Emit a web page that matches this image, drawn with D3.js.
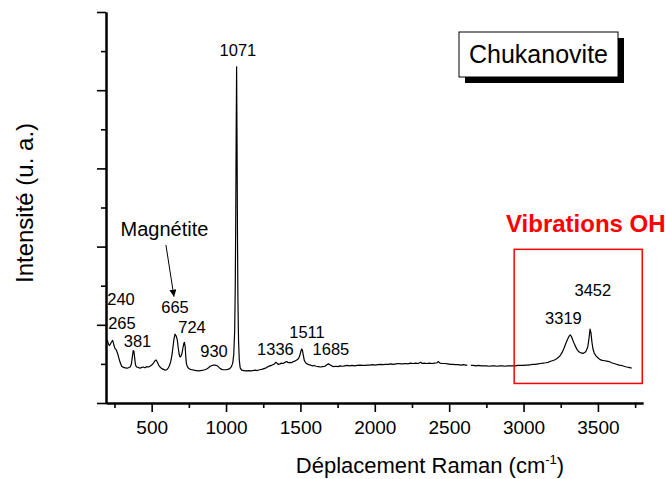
<!DOCTYPE html>
<html lang="fr">
<head>
    <meta charset="UTF-8">
    <title>Chukanovite - spectre Raman</title>
    <script src="https://d3js.org/d3.v7.min.js"></script>
    <style>
        body { margin: 0; background: #fff; }
        svg { font-family: "Liberation Sans", Arial, sans-serif; }
        .spectrum { fill: none; stroke: #000; stroke-width: 1.2px; stroke-linejoin: round; }
        .axis path, .axis line { stroke: #000; }
        .axis path { stroke-width: 2px; }
        .axis line { stroke-width: 1.6px; }
        .axis text { font-size: 19px; fill: #000; font-family: "Liberation Sans", Arial, sans-serif; }
        .peak { font-size: 16.5px; fill: #000; }
    </style>
</head>
<body>
    <div id="chart"></div>
    <script>
        // spectrum (cm-1, arbitrary intensity), null = gap in the record
        var wavenumbers = [202, 208, 215, 222, 230, 238, 245, 251, 256, 261, 268, 276, 286, 298, 310, 322, 333, 343, 355, 364,
            370, 376, 381, 386, 391, 398, 410, 422, 434, 444, 455, 466, 478, 489, 500, 512, 522, 530, 538, 547,
            556, 568, 580, 592, 601, 612, 620, 628, 636, 643, 650, 657, 664, 672, 679, 685, 690, 696, 703, 710,
            716, 720, 725, 729, 733, 740, 750, 760, 772, 785, 800, 815, 830, 845, 858, 870, 882, 894, 905, 916,
            926, 938, 948, 958, 971, 985, 1000, 1012, 1025, 1036, 1045, 1052, 1058, 1062, 1065, 1068, 1071, 1074, 1077, 1080,
            1084, 1089, 1095, 1105, 1120, 1135, 1150, 1165, 1180, 1195, 1210, 1225, 1240, 1255, 1270, 1282, 1295, 1310, 1322, 1334,
            1342, 1350, 1362, 1372, 1384, 1396, 1408, 1418, 1430, 1441, 1452, 1462, 1475, 1486, 1495, 1502, 1508, 1513, 1518, 1526,
            1535, 1546, 1556, 1568, 1580, 1592, 1605, 1620, 1635, 1650, 1665, 1678, 1688, 1698, 1710, 1722, 1738, 1752, 1766, 1782,
            1798, 1815, 1830, 1848, 1865, 1882, 1900, 1918, 1935, 1952, 1967, 1985, 2002, 2020, 2038, 2055, 2072, 2090, 2108, 2125,
            2142, 2160, 2178, 2189, 2205, 2222, 2240, 2258, 2275, 2292, 2308, 2318, 2332, 2350, 2368, 2385, 2402, 2418, 2428, 2438,
            2455, 2472, 2490, 2508, 2525, 2542, 2560, 2578, 2595, 2612, 2622, 2632, 2646, 2662, 2680, 2698, 2715, 2732, 2752, 2770,
            2788, 2805, 2822, 2840, 2858, 2875, 2892, 2910, 2929, 2946, 2962, 2980, 2998, 3015, 3032, 3050, 3063, 3080, 3098, 3115,
            3132, 3150, 3165, 3177, 3192, 3208, 3222, 3235, 3248, 3260, 3272, 3284, 3296, 3306, 3314, 3322, 3332, 3345, 3359, 3372,
            3386, 3400, 3412, 3422, 3432, 3440, 3447, 3453, 3460, 3467, 3475, 3488, 3502, 3514, 3530, 3545, 3560, 3575, 3592, 3608,
            3625, 3642, 3659, 3675, 3692, 3708, 3727];
        var intensities = [1.61, 1.52, 1.47, 1.50, 1.56, 1.60, 1.50, 1.42, 1.38, 1.37, 1.30, 1.20, 1.06, 0.94, 0.91, 0.90, 0.89, 0.90, 0.92, 1.00,
            1.18, 1.34, 1.32, 1.14, 0.98, 0.92, 0.91, 0.89, 0.91, 0.92, 0.90, 0.93, 0.92, 0.94, 0.97, 1.02, 1.08, 1.10, 1.05, 0.97,
            0.92, 0.88, 0.86, 0.84, 0.85, 0.90, 0.96, 1.06, 1.22, 1.42, 1.64, 1.76, 1.72, 1.62, 1.40, 1.24, 1.18, 1.19, 1.26, 1.40,
            1.52, 1.55, 1.45, 1.20, 1.02, 0.93, 0.88, 0.86, 0.85, 0.84, 0.83, 0.82, 0.83, 0.84, 0.85, 0.87, 0.90, 0.94, 0.96, 0.97,
            0.97, 0.96, 0.93, 0.89, 0.86, 0.85, 0.85, 0.86, 0.88, 0.93, 1.02, 1.25, 1.85, 3.00, 4.60, 6.80, 8.60, 6.60, 4.20, 2.60,
            1.60, 1.10, 0.90, 0.84, 0.83, 0.82, 0.83, 0.82, 0.83, 0.84, 0.83, 0.85, 0.86, 0.88, 0.90, 0.93, 0.95, 0.97, 0.99, 1.04,
            1.02, 0.99, 1.00, 1.02, 1.01, 1.04, 1.06, 1.03, 1.04, 1.03, 1.06, 1.07, 1.10, 1.13, 1.20, 1.31, 1.38, 1.36, 1.25, 1.09,
            1.03, 1.00, 0.98, 0.97, 0.95, 0.96, 0.94, 0.93, 0.92, 0.93, 0.94, 0.98, 1.00, 0.98, 0.95, 0.93, 0.94, 0.93, 0.95, 0.94,
            0.95, 0.96, 0.95, 0.96, 0.95, 0.96, 0.97, 0.96, 0.96, 0.97, 0.97, 0.98, 0.97, 0.98, 0.99, 0.98, 0.99, 0.99, 1.00, 0.99,
            1.00, 1.01, 1.00, 1.00, 1.01, 1.00, 1.02, 1.01, 1.02, 1.01, 1.04, 1.01, 1.02, 1.01, 1.02, 1.01, 1.02, 1.03, 1.06, 1.02,
            1.01, 1.01, 1.00, 0.99, 0.99, 0.98, 0.98, 0.97, 0.98, 0.97, 0.97, null, 0.96, 0.96, 0.95, 0.96, 0.95, 0.95, 0.95, 0.94,
            0.95, 0.95, 0.94, 0.95, 0.95, 0.94, 0.95, 0.95, 0.95, 0.95, 0.96, 0.96, 0.96, 0.97, 0.97, 0.98, 0.99, 0.99, 1.00, 1.01,
            1.02, 1.03, 1.04, 1.06, 1.08, 1.10, 1.13, 1.17, 1.22, 1.30, 1.40, 1.52, 1.63, 1.71, 1.74, 1.70, 1.60, 1.48, 1.37, 1.31,
            1.28, 1.27, 1.29, 1.34, 1.44, 1.65, 1.89, 1.80, 1.55, 1.38, 1.28, 1.20, 1.15, 1.11, 1.09, 1.08, 1.07, 1.06, 1.03, 1.01,
            0.99, 0.97, 0.96, 0.94, 0.92, 0.91, 0.89];

        // peak labels: text, and where the label sits (cm-1, intensity of the baseline)
        var peakLabels = ["240", "265", "381", "665", "724", "930", "1071", "1336", "1511", "1685", "3319", "3452"];
        var peakLabelX = [294, 300, 405, 657, 771, 919, 1080, 1332, 1544, 1705, 3268, 3466];
        var peakLabelY = [2.51, 1.89, 1.44, 2.30, 1.79, 1.18, 8.87, 1.23, 1.66, 1.23, 2.02, 2.74];

        var xMajorTicks = [500, 1000, 1500, 2000, 2500, 3000, 3500];
        var xMinorTicks = [250, 750, 1250, 1750, 2250, 2750, 3250, 3750];
        var yMajorTicks = [0, 2, 4, 6, 8, 10];
        var yMinorTicks = [1, 3, 5, 7, 9];

        var width = 666, height = 479;
        var margin = { top: 12, right: 23, bottom: 76, left: 106 };
        var w = width - margin.left - margin.right;
        var h = height - margin.top - margin.bottom;

        var svg = d3.select("#chart").append("svg")
            .attr("width", width)
            .attr("height", height);

        var defs = svg.append("defs");
        defs.append("marker")
            .attr("id", "arrow")
            .attr("viewBox", "0 0 10 10")
            .attr("refX", 10).attr("refY", 5)
            .attr("markerWidth", 7).attr("markerHeight", 7)
            .attr("markerUnits", "userSpaceOnUse")
            .attr("orient", "auto")
            .append("path")
            .attr("d", "M0,0 L10,5 L0,10 z")
            .attr("fill", "#000");

        var g = svg.append("g")
            .attr("transform", `translate(${margin.left},${margin.top})`);

        var x = d3.scaleLinear().domain([193, 3803]).range([0, w]);
        var y = d3.scaleLinear().domain([0, 10]).range([h, 0]);

        // axes
        g.append("g").attr("class", "axis")
            .attr("transform", `translate(0,${h})`)
            .call(d3.axisBottom(x).tickValues(xMinorTicks).tickSize(5).tickSizeOuter(0).tickFormat(""));
        g.append("g").attr("class", "axis")
            .attr("transform", `translate(0,${h})`)
            .call(d3.axisBottom(x).tickValues(xMajorTicks).tickSize(9).tickSizeOuter(0).tickPadding(9).tickFormat(d3.format("d")));
        g.append("g").attr("class", "axis")
            .call(d3.axisLeft(y).tickValues(yMinorTicks).tickSize(5).tickSizeOuter(0).tickFormat(""));
        g.append("g").attr("class", "axis")
            .call(d3.axisLeft(y).tickValues(yMajorTicks).tickSize(9).tickSizeOuter(0).tickFormat(""));

        // spectrum
        var data = wavenumbers.map((d, i) => ({ wn: d, v: intensities[i] }));
        var line = d3.line()
            .defined(d => d.v != null)
            .x(d => x(d.wn))
            .y(d => y(d.v));
        g.append("path")
            .datum(data)
            .attr("class", "spectrum")
            .attr("d", line);

        // peak labels
        g.selectAll(".peak")
            .data(peakLabels)
            .enter().append("text")
            .attr("class", "peak")
            .attr("x", (d, i) => x(peakLabelX[i]))
            .attr("y", (d, i) => y(peakLabelY[i]))
            .attr("text-anchor", "middle")
            .text(d => d);

        // Magnetite annotation
        g.append("text")
            .attr("x", x(586)).attr("y", y(4.27))
            .attr("text-anchor", "middle")
            .style("font-size", "20px")
            .text("Magnétite");
        g.append("line")
            .attr("x1", x(596)).attr("y1", y(4.04))
            .attr("x2", x(650)).attr("y2", y(2.72))
            .attr("stroke", "#000").attr("stroke-width", 1)
            .attr("marker-end", "url(#arrow)");

        // OH region
        g.append("rect")
            .attr("x", x(2937)).attr("y", y(3.93))
            .attr("width", x(3798) - x(2937))
            .attr("height", y(0.50) - y(3.93))
            .attr("fill", "none")
            .attr("stroke", "#ff0000")
            .attr("stroke-width", 1.5);
        g.append("text")
            .attr("x", x(2882)).attr("y", y(4.37))
            .attr("fill", "#ff0000")
            .style("font-size", "24px")
            .style("font-weight", "bold")
            .text("Vibrations OH");

        // sample name box with drop shadow
        var box = svg.append("g").attr("transform", "translate(459,32)");
        box.append("rect").attr("x", 6).attr("y", 6).attr("width", 159).attr("height", 45).attr("fill", "#000");
        box.append("rect").attr("x", 0).attr("y", 0).attr("width", 159).attr("height", 45)
            .attr("fill", "#fff").attr("stroke", "#000").attr("stroke-width", 1);
        box.append("text").attr("x", 79.5).attr("y", 31)
            .attr("text-anchor", "middle")
            .style("font-size", "25px")
            .text("Chukanovite");

        // axis titles
        var xt = svg.append("text")
            .attr("x", 430).attr("y", 473)
            .attr("text-anchor", "middle")
            .style("font-size", "22px");
        xt.append("tspan").text("Déplacement Raman (cm");
        xt.append("tspan").attr("dy", -9).style("font-size", "13px").text("-1");
        xt.append("tspan").attr("dy", 9).text(")");

        svg.append("text")
            .attr("transform", "translate(33,203) rotate(-90)")
            .attr("text-anchor", "middle")
            .style("font-size", "24px")
            .text("Intensité (u. a.)");
    </script>
</body>
</html>
